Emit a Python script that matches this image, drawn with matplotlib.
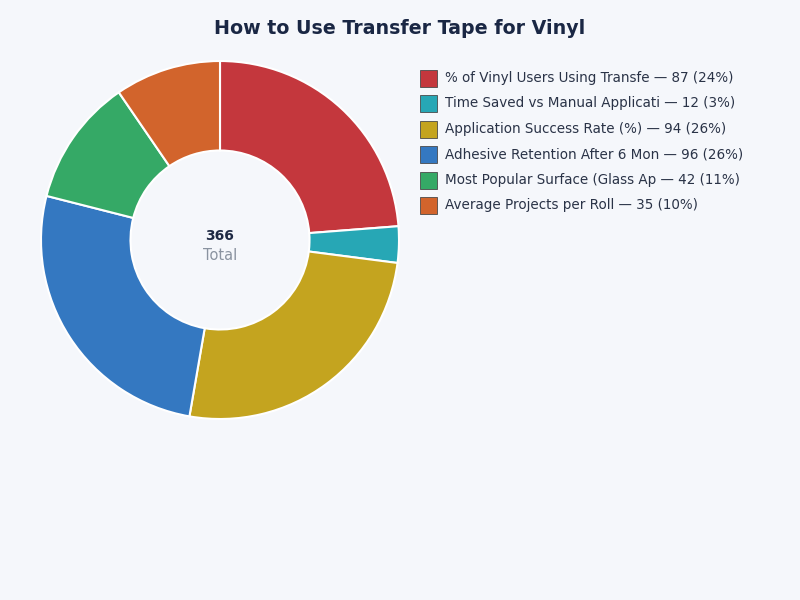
import matplotlib.pyplot as plt
from matplotlib.patches import Rectangle

labels = [
    "% of Vinyl Users Using Transfe",
    "Time Saved vs Manual Applicati",
    "Application Success Rate (%)",
    "Adhesive Retention After 6 Mon",
    "Most Popular Surface (Glass Ap",
    "Average Projects per Roll",
]
values = [87, 12, 94, 96, 42, 35]
colors = ["#c4373d", "#27a7b5", "#c4a41f", "#3478c1", "#35a966", "#d2642c"]

bg = "#f5f7fb"
W, H = 800, 600

fig = plt.figure(figsize=(8, 6), dpi=100, facecolor=bg)

# donut: center (220, 240) px, radius ~179 px
cx, cy, r = 220, 240, 179
ax = fig.add_axes([(cx - r) / W, (H - cy - r) / H, 2 * r / W, 2 * r / H])
ax.set_facecolor(bg)
ax.pie(values, colors=colors, startangle=90, counterclock=False, radius=1,
       wedgeprops=dict(width=0.5, edgecolor="white", linewidth=1.5))
ax.set_xlim(-1, 1)
ax.set_ylim(-1, 1)
ax.axis("off")

total = sum(values)
ax.text(0, 0.022, str(total), ha="center", va="center", fontsize=10,
        fontweight="bold", color="#1f2a44")
ax.text(0, -0.084, "Total", ha="center", va="center", fontsize=10.5, color="#8a93a0")

fig.text(0.5, 1 - 28 / H, "How to Use Transfer Tape for Vinyl", ha="center",
         va="center", fontsize=13.7, fontweight="bold", color="#1a2744")

# legend
for i, (lab, v, c) in enumerate(zip(labels, values, colors)):
    yc = 78 + i * 25.5
    fig.patches.append(Rectangle((420 / W, 1 - (yc + 8.5) / H), 17 / W, 17 / H,
                                 transform=fig.transFigure, facecolor=c,
                                 edgecolor="#4a4a4a", linewidth=0.6))
    pct = round(v / total * 100)
    fig.text(445 / W, 1 - yc / H, f"{lab} — {v} ({pct}%)", ha="left",
             va="center", fontsize=9.75, color="#2a3347")

plt.savefig("out.png", dpi=100, facecolor=bg)
